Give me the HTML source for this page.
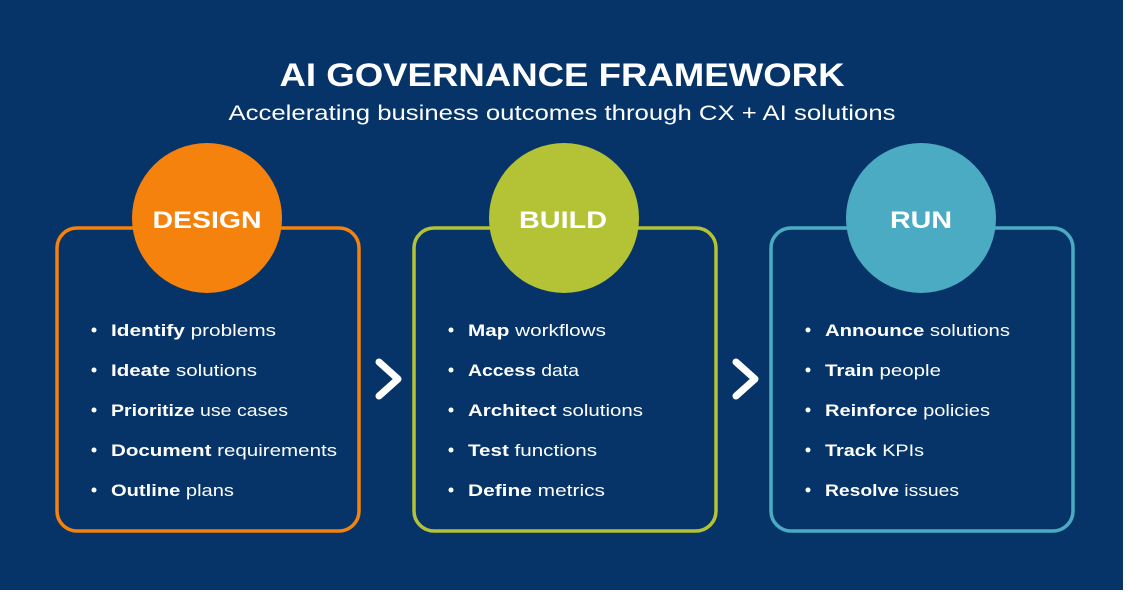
<!DOCTYPE html>
<html><head><meta charset="utf-8"><style>
html,body{margin:0;padding:0;background:#fff;}
svg{display:block;}
text{font-family:"Liberation Sans",sans-serif;fill:#fff;}
.b{font-weight:bold;}
.it{font-size:17px;}
</style></head><body>
<svg width="1127" height="595" viewBox="0 0 1127 595">
<rect x="0" y="0" width="1123" height="590" fill="#063468"/>
<text x="562" y="86" text-anchor="middle" class="b" font-size="32" textLength="565" lengthAdjust="spacingAndGlyphs">AI GOVERNANCE FRAMEWORK</text>
<text x="562" y="120" text-anchor="middle" font-size="21" textLength="667" lengthAdjust="spacingAndGlyphs">Accelerating business outcomes through CX + AI solutions</text>

<rect x="57" y="228" width="302" height="303" rx="20" fill="none" stroke="#F4820C" stroke-width="3.5"/>
<rect x="414" y="228" width="302" height="303" rx="20" fill="none" stroke="#B4C236" stroke-width="3.5"/>
<rect x="771" y="228" width="302" height="303" rx="20" fill="none" stroke="#4AABC2" stroke-width="3.5"/>

<circle cx="207" cy="218" r="75" fill="#F4820C"/>
<circle cx="564" cy="218" r="75" fill="#B4C236"/>
<circle cx="921" cy="218" r="75" fill="#4AABC2"/>
<text x="207" y="228" text-anchor="middle" class="b" font-size="24" textLength="109" lengthAdjust="spacingAndGlyphs">DESIGN</text>
<text x="563" y="228" text-anchor="middle" class="b" font-size="24" textLength="88" lengthAdjust="spacingAndGlyphs">BUILD</text>
<text x="921" y="228" text-anchor="middle" class="b" font-size="24" textLength="62" lengthAdjust="spacingAndGlyphs">RUN</text>

<polyline points="379,362 398,379 379,396" fill="none" stroke="#fff" stroke-width="7" stroke-linecap="round" stroke-linejoin="round"/>
<polyline points="736,362 755,379 736,396" fill="none" stroke="#fff" stroke-width="7" stroke-linecap="round" stroke-linejoin="round"/>

<g fill="#fff">
<circle cx="94" cy="330" r="2.5"/><circle cx="94" cy="370" r="2.5"/><circle cx="94" cy="410" r="2.5"/><circle cx="94" cy="450" r="2.5"/><circle cx="94" cy="490" r="2.5"/>
<circle cx="451" cy="330" r="2.5"/><circle cx="451" cy="370" r="2.5"/><circle cx="451" cy="410" r="2.5"/><circle cx="451" cy="450" r="2.5"/><circle cx="451" cy="490" r="2.5"/>
<circle cx="808" cy="330" r="2.5"/><circle cx="808" cy="370" r="2.5"/><circle cx="808" cy="410" r="2.5"/><circle cx="808" cy="450" r="2.5"/><circle cx="808" cy="490" r="2.5"/>
</g>

<g class="it">
<text x="111" y="336" textLength="165" lengthAdjust="spacingAndGlyphs"><tspan class="b">Identify</tspan> problems</text>
<text x="111" y="376" textLength="146" lengthAdjust="spacingAndGlyphs"><tspan class="b">Ideate</tspan> solutions</text>
<text x="111" y="416" textLength="177" lengthAdjust="spacingAndGlyphs"><tspan class="b">Prioritize</tspan> use cases</text>
<text x="111" y="456" textLength="226" lengthAdjust="spacingAndGlyphs"><tspan class="b">Document</tspan> requirements</text>
<text x="111" y="496" textLength="123" lengthAdjust="spacingAndGlyphs"><tspan class="b">Outline</tspan> plans</text>

<text x="468" y="336" textLength="138" lengthAdjust="spacingAndGlyphs"><tspan class="b">Map</tspan> workflows</text>
<text x="468" y="376" textLength="111" lengthAdjust="spacingAndGlyphs"><tspan class="b">Access</tspan> data</text>
<text x="468" y="416" textLength="175" lengthAdjust="spacingAndGlyphs"><tspan class="b">Architect</tspan> solutions</text>
<text x="468" y="456" textLength="129" lengthAdjust="spacingAndGlyphs"><tspan class="b">Test</tspan> functions</text>
<text x="468" y="496" textLength="137" lengthAdjust="spacingAndGlyphs"><tspan class="b">Define</tspan> metrics</text>

<text x="825" y="336" textLength="185" lengthAdjust="spacingAndGlyphs"><tspan class="b">Announce</tspan> solutions</text>
<text x="825" y="376" textLength="116" lengthAdjust="spacingAndGlyphs"><tspan class="b">Train</tspan> people</text>
<text x="825" y="416" textLength="165" lengthAdjust="spacingAndGlyphs"><tspan class="b">Reinforce</tspan> policies</text>
<text x="825" y="456" textLength="99" lengthAdjust="spacingAndGlyphs"><tspan class="b">Track</tspan> KPIs</text>
<text x="825" y="496" textLength="134" lengthAdjust="spacingAndGlyphs"><tspan class="b">Resolve</tspan> issues</text>
</g>
</svg>
</body></html>
